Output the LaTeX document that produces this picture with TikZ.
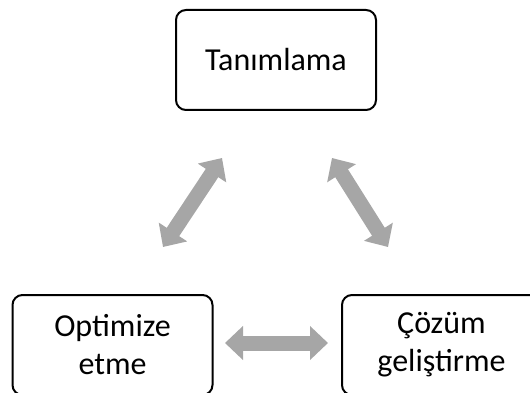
\documentclass[tikz,border=0pt]{standalone}
\usepackage{fontspec}
\setmainfont{Carlito}
\usetikzlibrary{arrows.meta}
\definecolor{arrowgray}{HTML}{A6A6A6}
\begin{document}
\begin{tikzpicture}[x=1pt,y=-1pt,
  stagebox/.style={draw=black, line width=2pt, rounded corners=10pt,
    minimum width=200pt, minimum height=100pt, align=center, inner sep=0pt,
    font=\fontsize{32}{38}\selectfont},
  twoway/.style={draw=arrowgray, line width=15pt,
    {Triangle[width=33pt,length=18pt]}-{Triangle[width=33pt,length=18pt]}}]
\useasboundingbox (0,0) rectangle (530,393);
% the three stages
\node[stagebox] (tanim) at (276,60) {Tanımlama};
\node[stagebox] (optim) at (112.5,345) {Optimize\\etme};
\node[stagebox, minimum width=199pt] (cozum) at (441.5,345) {Çözüm\\geliştirme};
% ends of the two-way arrows between the stages
\coordinate (lt) at (222,158);
\coordinate (lb) at (163,247);
\coordinate (rt) at (332,158);
\coordinate (rb) at (388,247);
\coordinate (hl) at (225,343);
\coordinate (hr) at (328,343);
\draw[twoway] (lb) -- (lt);
\draw[twoway] (rt) -- (rb);
\draw[twoway] (hl) -- (hr);
\end{tikzpicture}
\end{document}
